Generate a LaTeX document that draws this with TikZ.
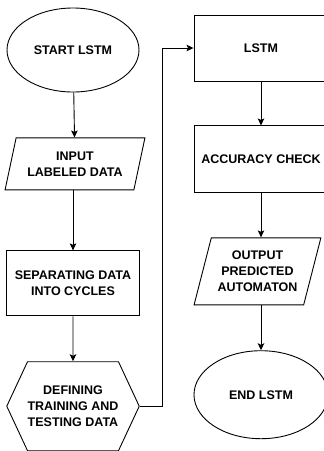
\documentclass[tikz,border=0pt]{standalone}
\usepackage{fontspec}
\setmainfont{Liberation Sans}
\usetikzlibrary{positioning,shapes.geometric,shapes.symbols,arrows.meta}

\begin{document}
\begin{tikzpicture}[x=1pt,y=1pt,
  terminal/.style={ellipse, draw=black, line width=0.9pt, minimum width=132pt, minimum height=84pt, inner sep=0pt},
  procbox/.style={rectangle, draw=black, line width=0.9pt, minimum width=133pt, minimum height=66pt, inner sep=0pt},
  iobox/.style={trapezium, trapezium left angle=70, trapezium right angle=110, trapezium stretches=true, draw=black, line width=0.9pt, inner sep=0pt},
  prepbox/.style={signal, signal to=east and west, signal pointer angle=130, draw=black, line width=0.9pt, minimum width=132pt, minimum height=89pt, inner sep=0pt},
  flow/.style={draw=black, line width=0.9pt, -{Stealth[length=7pt,width=6.5pt,inset=1.5pt]}},
  every node/.append style={font=\fontsize{12.5}{16}\selectfont\bfseries, align=center}]

        \useasboundingbox (0,0) rectangle (324,-451);

        % left column
        \node[terminal] (start) at (73,-50) {START LSTM};
        \node[iobox, minimum width=140pt, minimum height=52pt] (input) [below=45pt of start, xshift=2pt] {INPUT\\LABELED DATA};
        \node[procbox, minimum height=65pt] (sep) [below=60pt of input, xshift=-2pt] {SEPARATING DATA\\INTO CYCLES};
        \node[prepbox] (define) [below=45pt of sep] {DEFINING\\TRAINING AND\\TESTING DATA};

        % right column
        \node[procbox, minimum width=134pt] (lstm) at (261,-48) {LSTM};
        \node[procbox, minimum width=134pt, minimum height=67pt] (acc) [below=44pt of lstm] {ACCURACY CHECK};
        \node[iobox, minimum width=127pt, minimum height=67pt] (output) [below=44pt of acc, xshift=-3.5pt] {OUTPUT\\PREDICTED\\AUTOMATON};
        \node[terminal, minimum width=134pt, minimum height=88pt] (finish) [below=45pt of output, xshift=3.5pt] {END LSTM};

        \draw[flow] (start) -- (input);
        \draw[flow] (input.south -| sep.north) -- (sep);
        \draw[flow] (sep) -- (define);
        \draw[flow] (define.east) -- ++(23pt,0) |- (lstm.west);
        \draw[flow] (lstm) -- (acc);
        \draw[flow] (acc.south) -- (acc.south |- output.north);
        \draw[flow] (output.south -| finish.north) -- (finish);

\end{tikzpicture}
\end{document}
